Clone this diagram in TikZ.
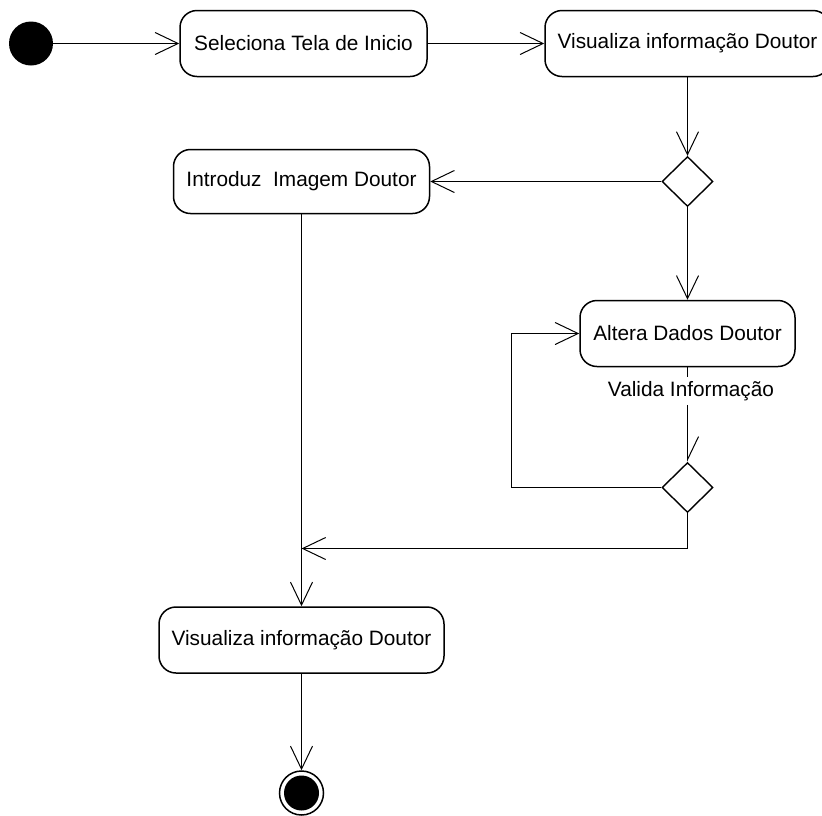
\documentclass[tikz,border=0pt]{standalone}
\usepackage{fontspec}
\setmainfont{Liberation Sans}
\usetikzlibrary{shapes.geometric,arrows.meta}

\begin{document}
\begin{tikzpicture}[x=1pt,y=1pt,
  txt/.style={font=\fontsize{20.8}{24}\selectfont},
  act/.style={txt, draw, line width=1.5pt, rounded corners=17pt,
    minimum height=66pt, inner sep=0pt},
  decision/.style={draw, diamond, line width=1.4pt, minimum width=51pt,
    minimum height=50pt, inner sep=0pt},
  flow/.style={line width=1pt, -{Straight Barb[length=23pt,width=22pt]}},
  halfflow/.style={line width=1pt, -{Straight Barb[length=23pt,width=22pt,harpoon]}},
  plain/.style={line width=1pt},
]
\useasboundingbox (0,0) rectangle (822,-815);

% start and end states
\fill (31,-43.5) circle (22);
\node[circle, draw, line width=1.5pt, minimum size=44pt, inner sep=0pt] (fin) at (301.5,-793) {};
\fill (fin.center) circle (17.5);

% activities
\node[act, minimum width=247pt] (sel)  at (303.5,-43.5) {Seleciona Tela de Inicio};
\node[act, minimum width=285pt] (vis1) at (687.5,-43.5) {Visualiza informação Doutor};
\node[act, minimum width=256pt, minimum height=64pt] (img) at (301.5,-181.5) {Introduz\ \ Imagem Doutor};
\node[act, minimum width=215pt] (alt)  at (687.5,-333.5) {Altera Dados Doutor};
\node[act, minimum width=285pt] (vis2) at (301.5,-640) {Visualiza informação Doutor};

% decisions
\node[decision] (d1) at (687.5,-181.5) {};
\node[decision] (d2) at (687.5,-487.5) {};

% guard label
\node[txt, inner sep=4pt] (val) at (691,-391) {Valida Informação};

\coordinate (start) at (53,-43.5);
\coordinate (merge) at (301.5,-548.5);

% transitions
\draw[flow] (start) -- (sel.west);
\draw[flow] (sel.east) -- (vis1.west);
\draw[flow] (vis1.south) -- (d1.north);
\draw[flow] (d1.west) -- (img.east);
\draw[flow] (d1.south) -- (alt.north);
\draw[plain] (alt.south) -- (alt.south |- val.north);
\draw[halfflow] (d2.north |- val.south) -- (d2.north);
\draw[flow] (d2.west) -- ++(-150,0) |- (alt.west);
\draw[flow] (d2.south) |- (merge);
\draw[flow] (img.south) -- (vis2.north);
\draw[flow] (vis2.south) -- (fin.north);
\end{tikzpicture}
\end{document}
